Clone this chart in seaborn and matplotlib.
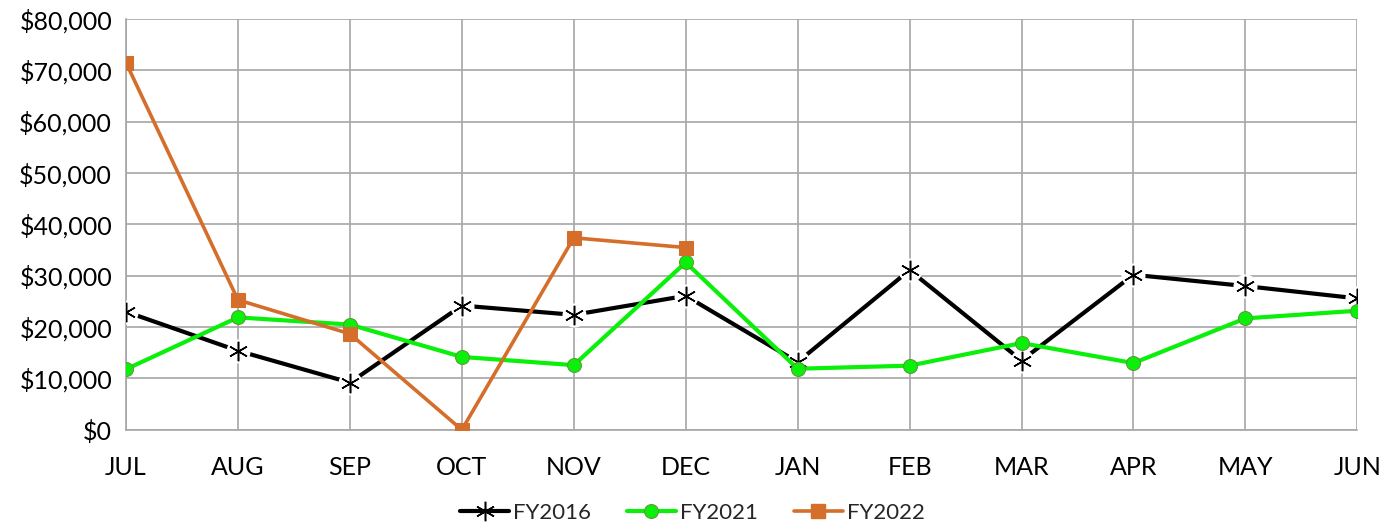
import matplotlib
matplotlib.use('Agg')
import matplotlib.pyplot as plt
import pandas as pd
import seaborn as sns
from matplotlib.lines import Line2D
from matplotlib.ticker import FuncFormatter

# Data
months = ['JUL', 'AUG', 'SEP', 'OCT', 'NOV', 'DEC', 'JAN', 'FEB', 'MAR', 'APR', 'MAY', 'JUN']
fy2016 = [23000, 15400, 9200, 24200, 22400, 26100, 13200, 31100, 13500, 30200, 28000, 25600]
fy2021 = [11800, 21900, 20500, 14200, 12600, 32600, 11900, 12500, 16900, 13000, 21700, 23200]
fy2022 = [71500, 25300, 18700, 0, 37400, 35500]

black = '#000000'
green = '#0AF00A'
orange = '#D46E2A'

sns.set_theme(style='white')
plt.rcParams['font.family'] = ['Lato', 'DejaVu Sans']

df16 = pd.DataFrame({'month': months, 'value': fy2016})
df21 = pd.DataFrame({'month': months, 'value': fy2021})
df22 = pd.DataFrame({'month': months[:len(fy2022)], 'value': fy2022})

fig, ax = plt.subplots(figsize=(13.85, 5.3), dpi=100)
fig.subplots_adjust(left=0.091, right=0.98, top=0.964, bottom=0.189)

# FY2016: black line, white halo round the markers, then asterisks
sns.lineplot(data=df16, x='month', y='value', color=black, linewidth=3, ax=ax,
             sort=False)
for ln in ax.get_lines():
    ln.set_zorder(3)
ax.scatter(range(len(months)), fy2016, s=300, color='white', zorder=4, linewidths=0)
sns.lineplot(data=df16, x='month', y='value', color=black, linestyle='', ax=ax,
             sort=False, marker=(6, 2, 0), markersize=14, markeredgewidth=1.1,
             markeredgecolor=black)
ax.get_lines()[-1].set_zorder(5)

# FY2021
sns.lineplot(data=df21, x='month', y='value', color=green, linewidth=3, ax=ax,
             sort=False, marker='o', markersize=10, markerfacecolor=green,
             markeredgecolor='#5E9A3A', markeredgewidth=0.8)
ax.get_lines()[-1].set_zorder(6)

# FY2022
sns.lineplot(data=df22, x='month', y='value', color=orange, linewidth=2.6, ax=ax,
             sort=False, marker='s', markersize=9.5, markerfacecolor=orange,
             markeredgecolor=orange)
ax.get_lines()[-1].set_zorder(7)

ax.set_xlim(0, len(months) - 1)
ax.set_ylim(0, 80000)
ax.set_yticks(range(0, 80001, 10000))
ax.yaxis.set_major_formatter(FuncFormatter(lambda v, p: '${:,.0f}'.format(v)))
ax.set_xlabel('')
ax.set_ylabel('')

ax.grid(True, color='#A6A6A6', linewidth=1.2)
ax.set_axisbelow(True)
for side in ['top', 'right']:
    ax.spines[side].set_visible(False)
for side in ['left', 'bottom']:
    ax.spines[side].set_color('#A6A6A6')
    ax.spines[side].set_linewidth(1.2)
ax.tick_params(axis='both', which='major', length=7, width=1.2, color='#A6A6A6',
               labelsize=18, labelcolor='black')
ax.tick_params(axis='x', pad=12)
ax.tick_params(axis='y', pad=3)

handles = [
    Line2D([], [], color=black, linewidth=3, marker=(6, 2, 0), markersize=14,
           markeredgewidth=1.1, markeredgecolor=black, markerfacecolor='white'),
    Line2D([], [], color=green, linewidth=3, marker='o', markersize=10,
           markerfacecolor=green, markeredgecolor='#5E9A3A', markeredgewidth=0.8),
    Line2D([], [], color=orange, linewidth=2.6, marker='s', markersize=9.5,
           markerfacecolor=orange, markeredgecolor=orange),
]
fig.legend(handles, ['FY2016', 'FY2021', 'FY2022'], loc='center',
           bbox_to_anchor=(0.5, 0.032), ncol=3, frameon=False, fontsize=16,
           handlelength=2.2, handletextpad=0.2, columnspacing=1.6)

fig.savefig('out.png', dpi=100)
